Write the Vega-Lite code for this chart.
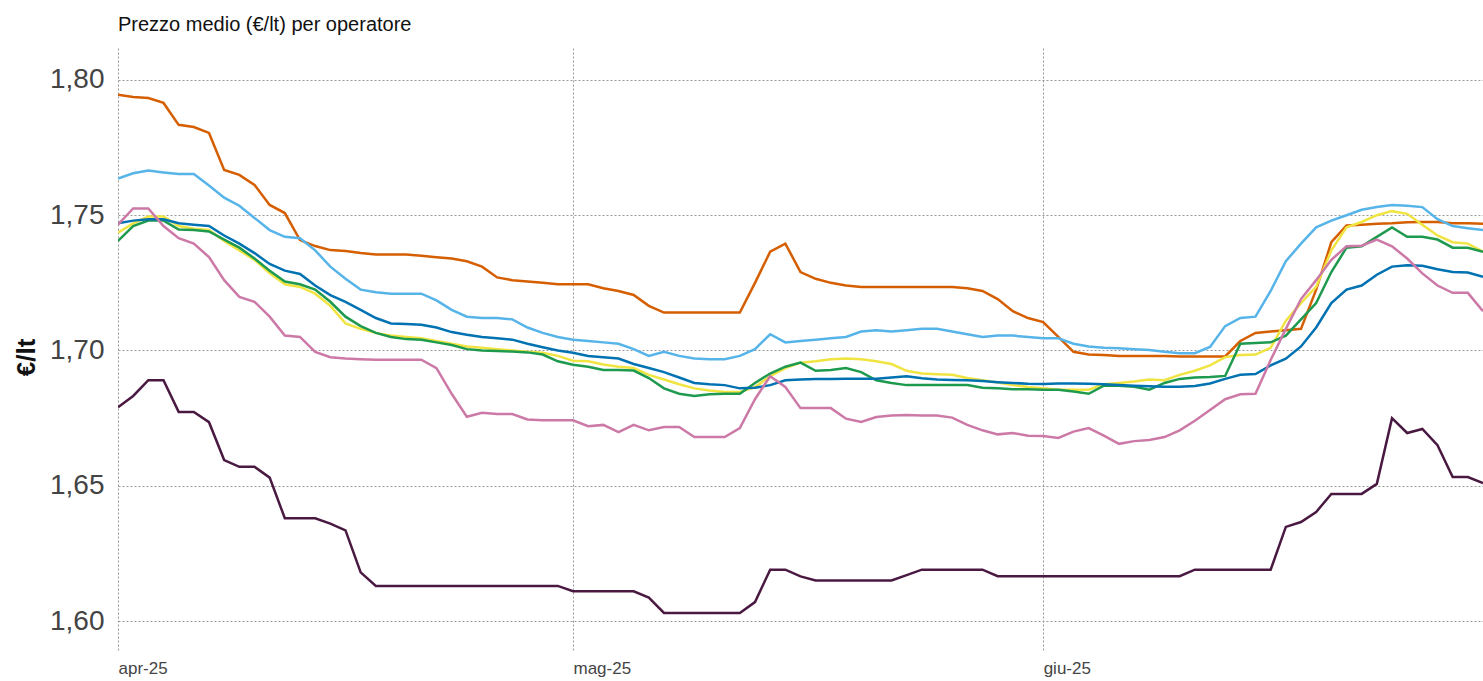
{
"$schema": "https://vega.github.io/schema/vega-lite/v6.json",
"width": 1365, "height": 602,
"autosize": {"type": "none"},
"padding": {"left": 118, "top": 48, "right": 0, "bottom": 31},
"title": {"text": "Prezzo medio (€/lt) per operatore", "anchor": "start", "frame": "group", "fontSize": 20, "fontWeight": "normal", "font": "Liberation Sans", "color": "#111111", "offset": 13},
"config": {"view": {"stroke": null}, "font": "Liberation Sans"},
"data": {"values": [
{"t":"2025-04-01","op":"Op1","v":1.7945},{"t":"2025-04-02","op":"Op1","v":1.7937},{"t":"2025-04-03","op":"Op1","v":1.7933},{"t":"2025-04-04","op":"Op1","v":1.7915},{"t":"2025-04-05","op":"Op1","v":1.7834},{"t":"2025-04-06","op":"Op1","v":1.7826},{"t":"2025-04-07","op":"Op1","v":1.7804},{"t":"2025-04-08","op":"Op1","v":1.7667},{"t":"2025-04-09","op":"Op1","v":1.7649},{"t":"2025-04-10","op":"Op1","v":1.7612},{"t":"2025-04-11","op":"Op1","v":1.7538},{"t":"2025-04-12","op":"Op1","v":1.7508},{"t":"2025-04-13","op":"Op1","v":1.7408},{"t":"2025-04-14","op":"Op1","v":1.7386},{"t":"2025-04-15","op":"Op1","v":1.7371},{"t":"2025-04-16","op":"Op1","v":1.7368},{"t":"2025-04-17","op":"Op1","v":1.736},{"t":"2025-04-18","op":"Op1","v":1.7355},{"t":"2025-04-19","op":"Op1","v":1.7355},{"t":"2025-04-20","op":"Op1","v":1.7355},{"t":"2025-04-21","op":"Op1","v":1.735},{"t":"2025-04-22","op":"Op1","v":1.7345},{"t":"2025-04-23","op":"Op1","v":1.734},{"t":"2025-04-24","op":"Op1","v":1.733},{"t":"2025-04-25","op":"Op1","v":1.731},{"t":"2025-04-26","op":"Op1","v":1.727},{"t":"2025-04-27","op":"Op1","v":1.726},{"t":"2025-04-28","op":"Op1","v":1.7255},{"t":"2025-04-29","op":"Op1","v":1.725},{"t":"2025-04-30","op":"Op1","v":1.7245},
{"t":"2025-05-01","op":"Op1","v":1.7245},{"t":"2025-05-02","op":"Op1","v":1.7245},{"t":"2025-05-03","op":"Op1","v":1.723},{"t":"2025-05-04","op":"Op1","v":1.722},{"t":"2025-05-05","op":"Op1","v":1.7205},{"t":"2025-05-06","op":"Op1","v":1.7165},{"t":"2025-05-07","op":"Op1","v":1.714},{"t":"2025-05-08","op":"Op1","v":1.714},{"t":"2025-05-09","op":"Op1","v":1.714},{"t":"2025-05-10","op":"Op1","v":1.714},{"t":"2025-05-11","op":"Op1","v":1.714},{"t":"2025-05-12","op":"Op1","v":1.714},{"t":"2025-05-13","op":"Op1","v":1.725},{"t":"2025-05-14","op":"Op1","v":1.7365},{"t":"2025-05-15","op":"Op1","v":1.7395},{"t":"2025-05-16","op":"Op1","v":1.729},{"t":"2025-05-17","op":"Op1","v":1.7265},{"t":"2025-05-18","op":"Op1","v":1.725},{"t":"2025-05-19","op":"Op1","v":1.724},{"t":"2025-05-20","op":"Op1","v":1.7235},{"t":"2025-05-21","op":"Op1","v":1.7235},{"t":"2025-05-22","op":"Op1","v":1.7235},{"t":"2025-05-23","op":"Op1","v":1.7235},{"t":"2025-05-24","op":"Op1","v":1.7235},{"t":"2025-05-25","op":"Op1","v":1.7235},{"t":"2025-05-26","op":"Op1","v":1.7235},{"t":"2025-05-27","op":"Op1","v":1.723},{"t":"2025-05-28","op":"Op1","v":1.722},{"t":"2025-05-29","op":"Op1","v":1.719},{"t":"2025-05-30","op":"Op1","v":1.7145},{"t":"2025-05-31","op":"Op1","v":1.712},
{"t":"2025-06-01","op":"Op1","v":1.7105},{"t":"2025-06-02","op":"Op1","v":1.705},{"t":"2025-06-03","op":"Op1","v":1.6995},{"t":"2025-06-04","op":"Op1","v":1.6985},{"t":"2025-06-05","op":"Op1","v":1.6983},{"t":"2025-06-06","op":"Op1","v":1.698},{"t":"2025-06-07","op":"Op1","v":1.698},{"t":"2025-06-08","op":"Op1","v":1.698},{"t":"2025-06-09","op":"Op1","v":1.698},{"t":"2025-06-10","op":"Op1","v":1.6978},{"t":"2025-06-11","op":"Op1","v":1.6978},{"t":"2025-06-12","op":"Op1","v":1.6978},{"t":"2025-06-13","op":"Op1","v":1.6978},{"t":"2025-06-14","op":"Op1","v":1.7035},{"t":"2025-06-15","op":"Op1","v":1.7065},{"t":"2025-06-16","op":"Op1","v":1.707},{"t":"2025-06-17","op":"Op1","v":1.7075},{"t":"2025-06-18","op":"Op1","v":1.708},{"t":"2025-06-19","op":"Op1","v":1.7225},{"t":"2025-06-20","op":"Op1","v":1.74},{"t":"2025-06-21","op":"Op1","v":1.7462},{"t":"2025-06-22","op":"Op1","v":1.7465},{"t":"2025-06-23","op":"Op1","v":1.7468},{"t":"2025-06-24","op":"Op1","v":1.747},{"t":"2025-06-25","op":"Op1","v":1.7474},{"t":"2025-06-26","op":"Op1","v":1.7475},{"t":"2025-06-27","op":"Op1","v":1.7475},{"t":"2025-06-28","op":"Op1","v":1.747},{"t":"2025-06-29","op":"Op1","v":1.747},{"t":"2025-06-30","op":"Op1","v":1.7468},

{"t":"2025-04-01","op":"Op2","v":1.7635},{"t":"2025-04-02","op":"Op2","v":1.7655},{"t":"2025-04-03","op":"Op2","v":1.7665},{"t":"2025-04-04","op":"Op2","v":1.7658},{"t":"2025-04-05","op":"Op2","v":1.7652},{"t":"2025-04-06","op":"Op2","v":1.7652},{"t":"2025-04-07","op":"Op2","v":1.761},{"t":"2025-04-08","op":"Op2","v":1.7565},{"t":"2025-04-09","op":"Op2","v":1.7535},{"t":"2025-04-10","op":"Op2","v":1.749},{"t":"2025-04-11","op":"Op2","v":1.7445},{"t":"2025-04-12","op":"Op2","v":1.742},{"t":"2025-04-13","op":"Op2","v":1.7415},{"t":"2025-04-14","op":"Op2","v":1.737},{"t":"2025-04-15","op":"Op2","v":1.731},{"t":"2025-04-16","op":"Op2","v":1.7265},{"t":"2025-04-17","op":"Op2","v":1.7225},{"t":"2025-04-18","op":"Op2","v":1.7215},{"t":"2025-04-19","op":"Op2","v":1.721},{"t":"2025-04-20","op":"Op2","v":1.721},{"t":"2025-04-21","op":"Op2","v":1.721},{"t":"2025-04-22","op":"Op2","v":1.7185},{"t":"2025-04-23","op":"Op2","v":1.715},{"t":"2025-04-24","op":"Op2","v":1.7125},{"t":"2025-04-25","op":"Op2","v":1.712},{"t":"2025-04-26","op":"Op2","v":1.712},{"t":"2025-04-27","op":"Op2","v":1.7115},{"t":"2025-04-28","op":"Op2","v":1.7085},{"t":"2025-04-29","op":"Op2","v":1.7065},{"t":"2025-04-30","op":"Op2","v":1.705},
{"t":"2025-05-01","op":"Op2","v":1.704},{"t":"2025-05-02","op":"Op2","v":1.7035},{"t":"2025-05-03","op":"Op2","v":1.703},{"t":"2025-05-04","op":"Op2","v":1.7025},{"t":"2025-05-05","op":"Op2","v":1.7005},{"t":"2025-05-06","op":"Op2","v":1.698},{"t":"2025-05-07","op":"Op2","v":1.6995},{"t":"2025-05-08","op":"Op2","v":1.698},{"t":"2025-05-09","op":"Op2","v":1.697},{"t":"2025-05-10","op":"Op2","v":1.6968},{"t":"2025-05-11","op":"Op2","v":1.6968},{"t":"2025-05-12","op":"Op2","v":1.698},{"t":"2025-05-13","op":"Op2","v":1.7005},{"t":"2025-05-14","op":"Op2","v":1.706},{"t":"2025-05-15","op":"Op2","v":1.703},{"t":"2025-05-16","op":"Op2","v":1.7035},{"t":"2025-05-17","op":"Op2","v":1.704},{"t":"2025-05-18","op":"Op2","v":1.7045},{"t":"2025-05-19","op":"Op2","v":1.705},{"t":"2025-05-20","op":"Op2","v":1.707},{"t":"2025-05-21","op":"Op2","v":1.7075},{"t":"2025-05-22","op":"Op2","v":1.707},{"t":"2025-05-23","op":"Op2","v":1.7075},{"t":"2025-05-24","op":"Op2","v":1.708},{"t":"2025-05-25","op":"Op2","v":1.708},{"t":"2025-05-26","op":"Op2","v":1.707},{"t":"2025-05-27","op":"Op2","v":1.706},{"t":"2025-05-28","op":"Op2","v":1.705},{"t":"2025-05-29","op":"Op2","v":1.7055},{"t":"2025-05-30","op":"Op2","v":1.7055},{"t":"2025-05-31","op":"Op2","v":1.705},
{"t":"2025-06-01","op":"Op2","v":1.7045},{"t":"2025-06-02","op":"Op2","v":1.7045},{"t":"2025-06-03","op":"Op2","v":1.7025},{"t":"2025-06-04","op":"Op2","v":1.7015},{"t":"2025-06-05","op":"Op2","v":1.701},{"t":"2025-06-06","op":"Op2","v":1.7008},{"t":"2025-06-07","op":"Op2","v":1.7005},{"t":"2025-06-08","op":"Op2","v":1.7002},{"t":"2025-06-09","op":"Op2","v":1.6995},{"t":"2025-06-10","op":"Op2","v":1.699},{"t":"2025-06-11","op":"Op2","v":1.699},{"t":"2025-06-12","op":"Op2","v":1.7013},{"t":"2025-06-13","op":"Op2","v":1.709},{"t":"2025-06-14","op":"Op2","v":1.712},{"t":"2025-06-15","op":"Op2","v":1.7125},{"t":"2025-06-16","op":"Op2","v":1.722},{"t":"2025-06-17","op":"Op2","v":1.733},{"t":"2025-06-18","op":"Op2","v":1.7395},{"t":"2025-06-19","op":"Op2","v":1.7455},{"t":"2025-06-20","op":"Op2","v":1.748},{"t":"2025-06-21","op":"Op2","v":1.75},{"t":"2025-06-22","op":"Op2","v":1.752},{"t":"2025-06-23","op":"Op2","v":1.753},{"t":"2025-06-24","op":"Op2","v":1.7538},{"t":"2025-06-25","op":"Op2","v":1.7535},{"t":"2025-06-26","op":"Op2","v":1.753},{"t":"2025-06-27","op":"Op2","v":1.7485},{"t":"2025-06-28","op":"Op2","v":1.746},{"t":"2025-06-29","op":"Op2","v":1.7452},{"t":"2025-06-30","op":"Op2","v":1.7445},

{"t":"2025-04-01","op":"Op3","v":1.7435},{"t":"2025-04-02","op":"Op3","v":1.747},{"t":"2025-04-03","op":"Op3","v":1.7495},{"t":"2025-04-04","op":"Op3","v":1.7495},{"t":"2025-04-05","op":"Op3","v":1.746},{"t":"2025-04-06","op":"Op3","v":1.745},{"t":"2025-04-07","op":"Op3","v":1.7445},{"t":"2025-04-08","op":"Op3","v":1.7405},{"t":"2025-04-09","op":"Op3","v":1.737},{"t":"2025-04-10","op":"Op3","v":1.7335},{"t":"2025-04-11","op":"Op3","v":1.7285},{"t":"2025-04-12","op":"Op3","v":1.7245},{"t":"2025-04-13","op":"Op3","v":1.7235},{"t":"2025-04-14","op":"Op3","v":1.721},{"t":"2025-04-15","op":"Op3","v":1.7165},{"t":"2025-04-16","op":"Op3","v":1.71},{"t":"2025-04-17","op":"Op3","v":1.708},{"t":"2025-04-18","op":"Op3","v":1.7065},{"t":"2025-04-19","op":"Op3","v":1.7055},{"t":"2025-04-20","op":"Op3","v":1.705},{"t":"2025-04-21","op":"Op3","v":1.7045},{"t":"2025-04-22","op":"Op3","v":1.7035},{"t":"2025-04-23","op":"Op3","v":1.7025},{"t":"2025-04-24","op":"Op3","v":1.7015},{"t":"2025-04-25","op":"Op3","v":1.701},{"t":"2025-04-26","op":"Op3","v":1.7005},{"t":"2025-04-27","op":"Op3","v":1.7},{"t":"2025-04-28","op":"Op3","v":1.6995},{"t":"2025-04-29","op":"Op3","v":1.6992},{"t":"2025-04-30","op":"Op3","v":1.698},
{"t":"2025-05-01","op":"Op3","v":1.6962},{"t":"2025-05-02","op":"Op3","v":1.696},{"t":"2025-05-03","op":"Op3","v":1.6948},{"t":"2025-05-04","op":"Op3","v":1.694},{"t":"2025-05-05","op":"Op3","v":1.6935},{"t":"2025-05-06","op":"Op3","v":1.691},{"t":"2025-05-07","op":"Op3","v":1.6893},{"t":"2025-05-08","op":"Op3","v":1.6875},{"t":"2025-05-09","op":"Op3","v":1.686},{"t":"2025-05-10","op":"Op3","v":1.6852},{"t":"2025-05-11","op":"Op3","v":1.6847},{"t":"2025-05-12","op":"Op3","v":1.6847},{"t":"2025-05-13","op":"Op3","v":1.6865},{"t":"2025-05-14","op":"Op3","v":1.6905},{"t":"2025-05-15","op":"Op3","v":1.6935},{"t":"2025-05-16","op":"Op3","v":1.6955},{"t":"2025-05-17","op":"Op3","v":1.696},{"t":"2025-05-18","op":"Op3","v":1.6968},{"t":"2025-05-19","op":"Op3","v":1.697},{"t":"2025-05-20","op":"Op3","v":1.6968},{"t":"2025-05-21","op":"Op3","v":1.696},{"t":"2025-05-22","op":"Op3","v":1.695},{"t":"2025-05-23","op":"Op3","v":1.6925},{"t":"2025-05-24","op":"Op3","v":1.6915},{"t":"2025-05-25","op":"Op3","v":1.6912},{"t":"2025-05-26","op":"Op3","v":1.691},{"t":"2025-05-27","op":"Op3","v":1.6898},{"t":"2025-05-28","op":"Op3","v":1.689},{"t":"2025-05-29","op":"Op3","v":1.6882},{"t":"2025-05-30","op":"Op3","v":1.6872},{"t":"2025-05-31","op":"Op3","v":1.6865},
{"t":"2025-06-01","op":"Op3","v":1.686},{"t":"2025-06-02","op":"Op3","v":1.6855},{"t":"2025-06-03","op":"Op3","v":1.6855},{"t":"2025-06-04","op":"Op3","v":1.6855},{"t":"2025-06-05","op":"Op3","v":1.6875},{"t":"2025-06-06","op":"Op3","v":1.688},{"t":"2025-06-07","op":"Op3","v":1.6885},{"t":"2025-06-08","op":"Op3","v":1.6893},{"t":"2025-06-09","op":"Op3","v":1.689},{"t":"2025-06-10","op":"Op3","v":1.691},{"t":"2025-06-11","op":"Op3","v":1.6925},{"t":"2025-06-12","op":"Op3","v":1.6945},{"t":"2025-06-13","op":"Op3","v":1.6975},{"t":"2025-06-14","op":"Op3","v":1.6983},{"t":"2025-06-15","op":"Op3","v":1.6985},{"t":"2025-06-16","op":"Op3","v":1.701},{"t":"2025-06-17","op":"Op3","v":1.711},{"t":"2025-06-18","op":"Op3","v":1.7175},{"t":"2025-06-19","op":"Op3","v":1.7235},{"t":"2025-06-20","op":"Op3","v":1.737},{"t":"2025-06-21","op":"Op3","v":1.7455},{"t":"2025-06-22","op":"Op3","v":1.7475},{"t":"2025-06-23","op":"Op3","v":1.75},{"t":"2025-06-24","op":"Op3","v":1.7515},{"t":"2025-06-25","op":"Op3","v":1.7505},{"t":"2025-06-26","op":"Op3","v":1.7465},{"t":"2025-06-27","op":"Op3","v":1.7425},{"t":"2025-06-28","op":"Op3","v":1.74},{"t":"2025-06-29","op":"Op3","v":1.7395},{"t":"2025-06-30","op":"Op3","v":1.7365},

{"t":"2025-04-01","op":"Op4","v":1.7405},{"t":"2025-04-02","op":"Op4","v":1.746},{"t":"2025-04-03","op":"Op4","v":1.748},{"t":"2025-04-04","op":"Op4","v":1.748},{"t":"2025-04-05","op":"Op4","v":1.7447},{"t":"2025-04-06","op":"Op4","v":1.7445},{"t":"2025-04-07","op":"Op4","v":1.744},{"t":"2025-04-08","op":"Op4","v":1.741},{"t":"2025-04-09","op":"Op4","v":1.738},{"t":"2025-04-10","op":"Op4","v":1.734},{"t":"2025-04-11","op":"Op4","v":1.7295},{"t":"2025-04-12","op":"Op4","v":1.7255},{"t":"2025-04-13","op":"Op4","v":1.7245},{"t":"2025-04-14","op":"Op4","v":1.7225},{"t":"2025-04-15","op":"Op4","v":1.718},{"t":"2025-04-16","op":"Op4","v":1.7125},{"t":"2025-04-17","op":"Op4","v":1.709},{"t":"2025-04-18","op":"Op4","v":1.7065},{"t":"2025-04-19","op":"Op4","v":1.705},{"t":"2025-04-20","op":"Op4","v":1.7042},{"t":"2025-04-21","op":"Op4","v":1.704},{"t":"2025-04-22","op":"Op4","v":1.703},{"t":"2025-04-23","op":"Op4","v":1.702},{"t":"2025-04-24","op":"Op4","v":1.7005},{"t":"2025-04-25","op":"Op4","v":1.7},{"t":"2025-04-26","op":"Op4","v":1.6998},{"t":"2025-04-27","op":"Op4","v":1.6996},{"t":"2025-04-28","op":"Op4","v":1.6993},{"t":"2025-04-29","op":"Op4","v":1.6985},{"t":"2025-04-30","op":"Op4","v":1.696},
{"t":"2025-05-01","op":"Op4","v":1.6947},{"t":"2025-05-02","op":"Op4","v":1.694},{"t":"2025-05-03","op":"Op4","v":1.6928},{"t":"2025-05-04","op":"Op4","v":1.6928},{"t":"2025-05-05","op":"Op4","v":1.6926},{"t":"2025-05-06","op":"Op4","v":1.6898},{"t":"2025-05-07","op":"Op4","v":1.686},{"t":"2025-05-08","op":"Op4","v":1.684},{"t":"2025-05-09","op":"Op4","v":1.6832},{"t":"2025-05-10","op":"Op4","v":1.6838},{"t":"2025-05-11","op":"Op4","v":1.684},{"t":"2025-05-12","op":"Op4","v":1.684},{"t":"2025-05-13","op":"Op4","v":1.688},{"t":"2025-05-14","op":"Op4","v":1.6915},{"t":"2025-05-15","op":"Op4","v":1.694},{"t":"2025-05-16","op":"Op4","v":1.6955},{"t":"2025-05-17","op":"Op4","v":1.6925},{"t":"2025-05-18","op":"Op4","v":1.6928},{"t":"2025-05-19","op":"Op4","v":1.6935},{"t":"2025-05-20","op":"Op4","v":1.692},{"t":"2025-05-21","op":"Op4","v":1.689},{"t":"2025-05-22","op":"Op4","v":1.688},{"t":"2025-05-23","op":"Op4","v":1.6872},{"t":"2025-05-24","op":"Op4","v":1.6872},{"t":"2025-05-25","op":"Op4","v":1.6872},{"t":"2025-05-26","op":"Op4","v":1.6872},{"t":"2025-05-27","op":"Op4","v":1.6872},{"t":"2025-05-28","op":"Op4","v":1.6862},{"t":"2025-05-29","op":"Op4","v":1.686},{"t":"2025-05-30","op":"Op4","v":1.6857},{"t":"2025-05-31","op":"Op4","v":1.6857},
{"t":"2025-06-01","op":"Op4","v":1.6855},{"t":"2025-06-02","op":"Op4","v":1.6855},{"t":"2025-06-03","op":"Op4","v":1.6848},{"t":"2025-06-04","op":"Op4","v":1.684},{"t":"2025-06-05","op":"Op4","v":1.687},{"t":"2025-06-06","op":"Op4","v":1.687},{"t":"2025-06-07","op":"Op4","v":1.6866},{"t":"2025-06-08","op":"Op4","v":1.6855},{"t":"2025-06-09","op":"Op4","v":1.688},{"t":"2025-06-10","op":"Op4","v":1.6895},{"t":"2025-06-11","op":"Op4","v":1.69},{"t":"2025-06-12","op":"Op4","v":1.6902},{"t":"2025-06-13","op":"Op4","v":1.6906},{"t":"2025-06-14","op":"Op4","v":1.7025},{"t":"2025-06-15","op":"Op4","v":1.7028},{"t":"2025-06-16","op":"Op4","v":1.703},{"t":"2025-06-17","op":"Op4","v":1.7055},{"t":"2025-06-18","op":"Op4","v":1.7115},{"t":"2025-06-19","op":"Op4","v":1.7175},{"t":"2025-06-20","op":"Op4","v":1.729},{"t":"2025-06-21","op":"Op4","v":1.738},{"t":"2025-06-22","op":"Op4","v":1.7385},{"t":"2025-06-23","op":"Op4","v":1.742},{"t":"2025-06-24","op":"Op4","v":1.7455},{"t":"2025-06-25","op":"Op4","v":1.742},{"t":"2025-06-26","op":"Op4","v":1.742},{"t":"2025-06-27","op":"Op4","v":1.741},{"t":"2025-06-28","op":"Op4","v":1.738},{"t":"2025-06-29","op":"Op4","v":1.738},{"t":"2025-06-30","op":"Op4","v":1.7365},

{"t":"2025-04-01","op":"Op5","v":1.747},{"t":"2025-04-02","op":"Op5","v":1.748},{"t":"2025-04-03","op":"Op5","v":1.7485},{"t":"2025-04-04","op":"Op5","v":1.7485},{"t":"2025-04-05","op":"Op5","v":1.747},{"t":"2025-04-06","op":"Op5","v":1.7465},{"t":"2025-04-07","op":"Op5","v":1.746},{"t":"2025-04-08","op":"Op5","v":1.7425},{"t":"2025-04-09","op":"Op5","v":1.7395},{"t":"2025-04-10","op":"Op5","v":1.736},{"t":"2025-04-11","op":"Op5","v":1.732},{"t":"2025-04-12","op":"Op5","v":1.7295},{"t":"2025-04-13","op":"Op5","v":1.7283},{"t":"2025-04-14","op":"Op5","v":1.724},{"t":"2025-04-15","op":"Op5","v":1.7205},{"t":"2025-04-16","op":"Op5","v":1.718},{"t":"2025-04-17","op":"Op5","v":1.715},{"t":"2025-04-18","op":"Op5","v":1.712},{"t":"2025-04-19","op":"Op5","v":1.71},{"t":"2025-04-20","op":"Op5","v":1.7098},{"t":"2025-04-21","op":"Op5","v":1.7095},{"t":"2025-04-22","op":"Op5","v":1.7085},{"t":"2025-04-23","op":"Op5","v":1.7068},{"t":"2025-04-24","op":"Op5","v":1.7058},{"t":"2025-04-25","op":"Op5","v":1.705},{"t":"2025-04-26","op":"Op5","v":1.7045},{"t":"2025-04-27","op":"Op5","v":1.704},{"t":"2025-04-28","op":"Op5","v":1.7025},{"t":"2025-04-29","op":"Op5","v":1.7012},{"t":"2025-04-30","op":"Op5","v":1.7},
{"t":"2025-05-01","op":"Op5","v":1.6992},{"t":"2025-05-02","op":"Op5","v":1.698},{"t":"2025-05-03","op":"Op5","v":1.6975},{"t":"2025-05-04","op":"Op5","v":1.697},{"t":"2025-05-05","op":"Op5","v":1.695},{"t":"2025-05-06","op":"Op5","v":1.6935},{"t":"2025-05-07","op":"Op5","v":1.692},{"t":"2025-05-08","op":"Op5","v":1.69},{"t":"2025-05-09","op":"Op5","v":1.688},{"t":"2025-05-10","op":"Op5","v":1.6875},{"t":"2025-05-11","op":"Op5","v":1.6872},{"t":"2025-05-12","op":"Op5","v":1.686},{"t":"2025-05-13","op":"Op5","v":1.6862},{"t":"2025-05-14","op":"Op5","v":1.6872},{"t":"2025-05-15","op":"Op5","v":1.689},{"t":"2025-05-16","op":"Op5","v":1.6893},{"t":"2025-05-17","op":"Op5","v":1.6895},{"t":"2025-05-18","op":"Op5","v":1.6895},{"t":"2025-05-19","op":"Op5","v":1.6896},{"t":"2025-05-20","op":"Op5","v":1.6896},{"t":"2025-05-21","op":"Op5","v":1.6896},{"t":"2025-05-22","op":"Op5","v":1.69},{"t":"2025-05-23","op":"Op5","v":1.6905},{"t":"2025-05-24","op":"Op5","v":1.6897},{"t":"2025-05-25","op":"Op5","v":1.6893},{"t":"2025-05-26","op":"Op5","v":1.6891},{"t":"2025-05-27","op":"Op5","v":1.689},{"t":"2025-05-28","op":"Op5","v":1.6887},{"t":"2025-05-29","op":"Op5","v":1.6883},{"t":"2025-05-30","op":"Op5","v":1.688},{"t":"2025-05-31","op":"Op5","v":1.6877},
{"t":"2025-06-01","op":"Op5","v":1.6876},{"t":"2025-06-02","op":"Op5","v":1.6878},{"t":"2025-06-03","op":"Op5","v":1.6878},{"t":"2025-06-04","op":"Op5","v":1.6877},{"t":"2025-06-05","op":"Op5","v":1.6875},{"t":"2025-06-06","op":"Op5","v":1.6872},{"t":"2025-06-07","op":"Op5","v":1.687},{"t":"2025-06-08","op":"Op5","v":1.6868},{"t":"2025-06-09","op":"Op5","v":1.6866},{"t":"2025-06-10","op":"Op5","v":1.6866},{"t":"2025-06-11","op":"Op5","v":1.6869},{"t":"2025-06-12","op":"Op5","v":1.6878},{"t":"2025-06-13","op":"Op5","v":1.6895},{"t":"2025-06-14","op":"Op5","v":1.691},{"t":"2025-06-15","op":"Op5","v":1.6913},{"t":"2025-06-16","op":"Op5","v":1.6945},{"t":"2025-06-17","op":"Op5","v":1.697},{"t":"2025-06-18","op":"Op5","v":1.7015},{"t":"2025-06-19","op":"Op5","v":1.7085},{"t":"2025-06-20","op":"Op5","v":1.7175},{"t":"2025-06-21","op":"Op5","v":1.7225},{"t":"2025-06-22","op":"Op5","v":1.724},{"t":"2025-06-23","op":"Op5","v":1.728},{"t":"2025-06-24","op":"Op5","v":1.731},{"t":"2025-06-25","op":"Op5","v":1.7315},{"t":"2025-06-26","op":"Op5","v":1.7313},{"t":"2025-06-27","op":"Op5","v":1.73},{"t":"2025-06-28","op":"Op5","v":1.729},{"t":"2025-06-29","op":"Op5","v":1.7288},{"t":"2025-06-30","op":"Op5","v":1.7272},

{"t":"2025-04-01","op":"Op6","v":1.7465},{"t":"2025-04-02","op":"Op6","v":1.7525},{"t":"2025-04-03","op":"Op6","v":1.7525},{"t":"2025-04-04","op":"Op6","v":1.746},{"t":"2025-04-05","op":"Op6","v":1.7415},{"t":"2025-04-06","op":"Op6","v":1.7395},{"t":"2025-04-07","op":"Op6","v":1.7345},{"t":"2025-04-08","op":"Op6","v":1.726},{"t":"2025-04-09","op":"Op6","v":1.7198},{"t":"2025-04-10","op":"Op6","v":1.718},{"t":"2025-04-11","op":"Op6","v":1.7125},{"t":"2025-04-12","op":"Op6","v":1.7055},{"t":"2025-04-13","op":"Op6","v":1.705},{"t":"2025-04-14","op":"Op6","v":1.6995},{"t":"2025-04-15","op":"Op6","v":1.6975},{"t":"2025-04-16","op":"Op6","v":1.697},{"t":"2025-04-17","op":"Op6","v":1.6968},{"t":"2025-04-18","op":"Op6","v":1.6966},{"t":"2025-04-19","op":"Op6","v":1.6966},{"t":"2025-04-20","op":"Op6","v":1.6966},{"t":"2025-04-21","op":"Op6","v":1.6966},{"t":"2025-04-22","op":"Op6","v":1.6935},{"t":"2025-04-23","op":"Op6","v":1.684},{"t":"2025-04-24","op":"Op6","v":1.6755},{"t":"2025-04-25","op":"Op6","v":1.677},{"t":"2025-04-26","op":"Op6","v":1.6765},{"t":"2025-04-27","op":"Op6","v":1.6765},{"t":"2025-04-28","op":"Op6","v":1.6745},{"t":"2025-04-29","op":"Op6","v":1.6742},{"t":"2025-04-30","op":"Op6","v":1.6742},
{"t":"2025-05-01","op":"Op6","v":1.6742},{"t":"2025-05-02","op":"Op6","v":1.672},{"t":"2025-05-03","op":"Op6","v":1.6725},{"t":"2025-05-04","op":"Op6","v":1.6698},{"t":"2025-05-05","op":"Op6","v":1.6725},{"t":"2025-05-06","op":"Op6","v":1.6705},{"t":"2025-05-07","op":"Op6","v":1.6717},{"t":"2025-05-08","op":"Op6","v":1.6717},{"t":"2025-05-09","op":"Op6","v":1.668},{"t":"2025-05-10","op":"Op6","v":1.668},{"t":"2025-05-11","op":"Op6","v":1.668},{"t":"2025-05-12","op":"Op6","v":1.6713},{"t":"2025-05-13","op":"Op6","v":1.682},{"t":"2025-05-14","op":"Op6","v":1.6905},{"t":"2025-05-15","op":"Op6","v":1.6865},{"t":"2025-05-16","op":"Op6","v":1.6787},{"t":"2025-05-17","op":"Op6","v":1.6787},{"t":"2025-05-18","op":"Op6","v":1.6787},{"t":"2025-05-19","op":"Op6","v":1.6748},{"t":"2025-05-20","op":"Op6","v":1.6736},{"t":"2025-05-21","op":"Op6","v":1.6754},{"t":"2025-05-22","op":"Op6","v":1.676},{"t":"2025-05-23","op":"Op6","v":1.6762},{"t":"2025-05-24","op":"Op6","v":1.676},{"t":"2025-05-25","op":"Op6","v":1.676},{"t":"2025-05-26","op":"Op6","v":1.6752},{"t":"2025-05-27","op":"Op6","v":1.6725},{"t":"2025-05-28","op":"Op6","v":1.6705},{"t":"2025-05-29","op":"Op6","v":1.669},{"t":"2025-05-30","op":"Op6","v":1.6695},{"t":"2025-05-31","op":"Op6","v":1.6685},
{"t":"2025-06-01","op":"Op6","v":1.6684},{"t":"2025-06-02","op":"Op6","v":1.6677},{"t":"2025-06-03","op":"Op6","v":1.67},{"t":"2025-06-04","op":"Op6","v":1.6713},{"t":"2025-06-05","op":"Op6","v":1.6685},{"t":"2025-06-06","op":"Op6","v":1.6655},{"t":"2025-06-07","op":"Op6","v":1.6665},{"t":"2025-06-08","op":"Op6","v":1.6669},{"t":"2025-06-09","op":"Op6","v":1.668},{"t":"2025-06-10","op":"Op6","v":1.6705},{"t":"2025-06-11","op":"Op6","v":1.674},{"t":"2025-06-12","op":"Op6","v":1.678},{"t":"2025-06-13","op":"Op6","v":1.682},{"t":"2025-06-14","op":"Op6","v":1.6838},{"t":"2025-06-15","op":"Op6","v":1.684},{"t":"2025-06-16","op":"Op6","v":1.6965},{"t":"2025-06-17","op":"Op6","v":1.708},{"t":"2025-06-18","op":"Op6","v":1.719},{"t":"2025-06-19","op":"Op6","v":1.726},{"t":"2025-06-20","op":"Op6","v":1.7335},{"t":"2025-06-21","op":"Op6","v":1.7385},{"t":"2025-06-22","op":"Op6","v":1.7387},{"t":"2025-06-23","op":"Op6","v":1.741},{"t":"2025-06-24","op":"Op6","v":1.7385},{"t":"2025-06-25","op":"Op6","v":1.734},{"t":"2025-06-26","op":"Op6","v":1.7285},{"t":"2025-06-27","op":"Op6","v":1.724},{"t":"2025-06-28","op":"Op6","v":1.7213},{"t":"2025-06-29","op":"Op6","v":1.7213},{"t":"2025-06-30","op":"Op6","v":1.7145},

{"t":"2025-04-01","op":"Op7","v":1.679},{"t":"2025-04-02","op":"Op7","v":1.6832},{"t":"2025-04-03","op":"Op7","v":1.689},{"t":"2025-04-04","op":"Op7","v":1.689},{"t":"2025-04-05","op":"Op7","v":1.6773},{"t":"2025-04-06","op":"Op7","v":1.6773},{"t":"2025-04-07","op":"Op7","v":1.6735},{"t":"2025-04-08","op":"Op7","v":1.6595},{"t":"2025-04-09","op":"Op7","v":1.657},{"t":"2025-04-10","op":"Op7","v":1.657},{"t":"2025-04-11","op":"Op7","v":1.653},{"t":"2025-04-12","op":"Op7","v":1.638},{"t":"2025-04-13","op":"Op7","v":1.638},{"t":"2025-04-14","op":"Op7","v":1.638},{"t":"2025-04-15","op":"Op7","v":1.636},{"t":"2025-04-16","op":"Op7","v":1.6335},{"t":"2025-04-17","op":"Op7","v":1.618},{"t":"2025-04-18","op":"Op7","v":1.613},{"t":"2025-04-19","op":"Op7","v":1.613},{"t":"2025-04-20","op":"Op7","v":1.613},{"t":"2025-04-21","op":"Op7","v":1.613},{"t":"2025-04-22","op":"Op7","v":1.613},{"t":"2025-04-23","op":"Op7","v":1.613},{"t":"2025-04-24","op":"Op7","v":1.613},{"t":"2025-04-25","op":"Op7","v":1.613},{"t":"2025-04-26","op":"Op7","v":1.613},{"t":"2025-04-27","op":"Op7","v":1.613},{"t":"2025-04-28","op":"Op7","v":1.613},{"t":"2025-04-29","op":"Op7","v":1.613},{"t":"2025-04-30","op":"Op7","v":1.613},
{"t":"2025-05-01","op":"Op7","v":1.611},{"t":"2025-05-02","op":"Op7","v":1.611},{"t":"2025-05-03","op":"Op7","v":1.611},{"t":"2025-05-04","op":"Op7","v":1.611},{"t":"2025-05-05","op":"Op7","v":1.611},{"t":"2025-05-06","op":"Op7","v":1.6087},{"t":"2025-05-07","op":"Op7","v":1.603},{"t":"2025-05-08","op":"Op7","v":1.603},{"t":"2025-05-09","op":"Op7","v":1.603},{"t":"2025-05-10","op":"Op7","v":1.603},{"t":"2025-05-11","op":"Op7","v":1.603},{"t":"2025-05-12","op":"Op7","v":1.603},{"t":"2025-05-13","op":"Op7","v":1.607},{"t":"2025-05-14","op":"Op7","v":1.619},{"t":"2025-05-15","op":"Op7","v":1.619},{"t":"2025-05-16","op":"Op7","v":1.6165},{"t":"2025-05-17","op":"Op7","v":1.615},{"t":"2025-05-18","op":"Op7","v":1.615},{"t":"2025-05-19","op":"Op7","v":1.615},{"t":"2025-05-20","op":"Op7","v":1.615},{"t":"2025-05-21","op":"Op7","v":1.615},{"t":"2025-05-22","op":"Op7","v":1.615},{"t":"2025-05-23","op":"Op7","v":1.617},{"t":"2025-05-24","op":"Op7","v":1.619},{"t":"2025-05-25","op":"Op7","v":1.619},{"t":"2025-05-26","op":"Op7","v":1.619},{"t":"2025-05-27","op":"Op7","v":1.619},{"t":"2025-05-28","op":"Op7","v":1.619},{"t":"2025-05-29","op":"Op7","v":1.6166},{"t":"2025-05-30","op":"Op7","v":1.6166},{"t":"2025-05-31","op":"Op7","v":1.6166},
{"t":"2025-06-01","op":"Op7","v":1.6166},{"t":"2025-06-02","op":"Op7","v":1.6166},{"t":"2025-06-03","op":"Op7","v":1.6166},{"t":"2025-06-04","op":"Op7","v":1.6166},{"t":"2025-06-05","op":"Op7","v":1.6166},{"t":"2025-06-06","op":"Op7","v":1.6166},{"t":"2025-06-07","op":"Op7","v":1.6166},{"t":"2025-06-08","op":"Op7","v":1.6166},{"t":"2025-06-09","op":"Op7","v":1.6166},{"t":"2025-06-10","op":"Op7","v":1.6166},{"t":"2025-06-11","op":"Op7","v":1.619},{"t":"2025-06-12","op":"Op7","v":1.619},{"t":"2025-06-13","op":"Op7","v":1.619},{"t":"2025-06-14","op":"Op7","v":1.619},{"t":"2025-06-15","op":"Op7","v":1.619},{"t":"2025-06-16","op":"Op7","v":1.619},{"t":"2025-06-17","op":"Op7","v":1.6348},{"t":"2025-06-18","op":"Op7","v":1.6366},{"t":"2025-06-19","op":"Op7","v":1.6403},{"t":"2025-06-20","op":"Op7","v":1.647},{"t":"2025-06-21","op":"Op7","v":1.647},{"t":"2025-06-22","op":"Op7","v":1.647},{"t":"2025-06-23","op":"Op7","v":1.6507},{"t":"2025-06-24","op":"Op7","v":1.675},{"t":"2025-06-25","op":"Op7","v":1.6695},{"t":"2025-06-26","op":"Op7","v":1.671},{"t":"2025-06-27","op":"Op7","v":1.665},{"t":"2025-06-28","op":"Op7","v":1.6532},{"t":"2025-06-29","op":"Op7","v":1.6532},{"t":"2025-06-30","op":"Op7","v":1.651}
]},
"mark": {"type": "line", "strokeWidth": 2.5, "clip": true},
"encoding": {
  "x": {"field": "t", "type": "temporal", "title": null,
    "scale": {"type": "utc", "domain": [{"year": 2025, "month": 4, "date": 1, "utc": true}, {"year": 2025, "month": 6, "date": 30, "utc": true}]},
    "axis": {"values": [{"year": 2025, "month": 4, "date": 1, "utc": true}, {"year": 2025, "month": 5, "date": 1, "utc": true}, {"year": 2025, "month": 6, "date": 1, "utc": true}],
      "labelExpr": "['gen','feb','mar','apr','mag','giu','lug','ago','set','ott','nov','dic'][utcmonth(datum.value)] + '-' + utcFormat(datum.value, '%y')",
      "labelAlign": "left", "labelFontSize": 17, "labelColor": "#444444", "labelPadding": 10, "labelFont": "Liberation Sans",
      "domain": false, "ticks": false, "grid": true, "gridDash": [2, 2], "gridColor": "#999999", "gridWidth": 1}},
  "y": {"field": "v", "type": "quantitative", "title": "€/lt",
    "scale": {"domain": [1.5893, 1.8118], "zero": false, "nice": false},
    "axis": {"values": [1.6, 1.65, 1.7, 1.75, 1.8],
      "labelExpr": "replace(format(datum.value, '.2f'), '.', ',')",
      "labelFontSize": 28, "labelColor": "#444444", "labelPadding": 14, "labelFont": "Liberation Sans",
      "titleFontSize": 26, "titleFontWeight": "bold", "titleColor": "#111111", "titlePadding": 10, "titleFont": "Liberation Sans", "titleY": 309,
      "domain": false, "ticks": false, "grid": true, "gridDash": [2, 2], "gridColor": "#999999", "gridWidth": 1}},
  "color": {"field": "op", "type": "nominal", "legend": null,
    "scale": {"domain": ["Op1", "Op2", "Op3", "Op4", "Op5", "Op6", "Op7"],
      "range": ["#D55E00", "#56B4E9", "#F0E442", "#1E9A4F", "#0072B2", "#CC79A7", "#4A1942"]}}
}
}
